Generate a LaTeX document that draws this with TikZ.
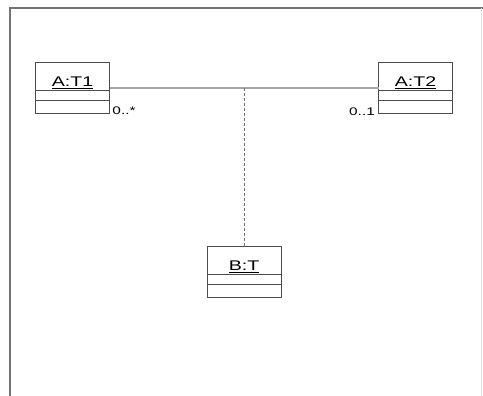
\documentclass[tikz,border=0pt]{standalone}
\usepackage{fontspec}
\setmainfont{Liberation Sans}
\usetikzlibrary{positioning,calc}

\tikzset{
  namepart/.style={draw=black!70, line width=0.8pt, outer sep=0pt, inner sep=0pt,
    minimum width=74pt, minimum height=28pt, text height=25pt, text depth=3pt,
    font=\fontsize{14}{14}\selectfont},
  attrpart/.style={draw=black!70, line width=0.8pt, outer sep=0pt, inner sep=0pt,
    minimum width=74pt, minimum height=10pt},
  oppart/.style={attrpart, minimum height=13pt},
  assoc/.style={draw=black!35, line width=2.5pt},
  link/.style={draw=black!55, line width=0.6pt, dash pattern=on 3pt off 2pt},
  mult/.style={inner sep=0pt, font=\fontsize{11}{11}\selectfont},
  frame/.style={draw=black!55, line width=2pt}
}
\newcommand{\wide}[1]{\scalebox{1.4}[1]{#1}}

\begin{document}
\begin{tikzpicture}[x=1pt,y=1pt]
\useasboundingbox (0,0) rectangle (483,-396);
% frame
\draw [frame] (10,-396) -- (10,-8.5) -- (483,-8.5);
\draw [black!12, line width=0.8pt] (481,-8.5) -- (481,-396);
% objects
\node [namepart] (t1) at (72.5,-76) {\wide{\underline{A:T1}}};
\node [attrpart, below=0pt of t1] (t1attr) {};
\node [oppart, below=0pt of t1attr] (t1op) {};
\node [namepart] (t2) at (415.5,-76) {\wide{\underline{A:T2}}};
\node [attrpart, below=0pt of t2] (t2attr) {};
\node [oppart, below=0pt of t2attr] (t2op) {};
\node [namepart] (bt) at (244,-260) {\wide{\underline{B:T}}};
\node [attrpart, below=0pt of bt] (btattr) {};
\node [oppart, below=0pt of btattr] (btop) {};
% association and link class
\draw [assoc] ([yshift=2pt]t1.south east) -- ([yshift=2pt]t2.south west);
\coordinate (mid) at ($(t1.south east)!0.5!(t2.south west)+(0,2)$);
\draw [link] (mid) -- (bt.north);
% multiplicities
\node [mult] (m1) at (124,-111) {\wide{0..*}};
\node [mult] (m2) at (362,-112) {\wide{0..1}};
\end{tikzpicture}
\end{document}
